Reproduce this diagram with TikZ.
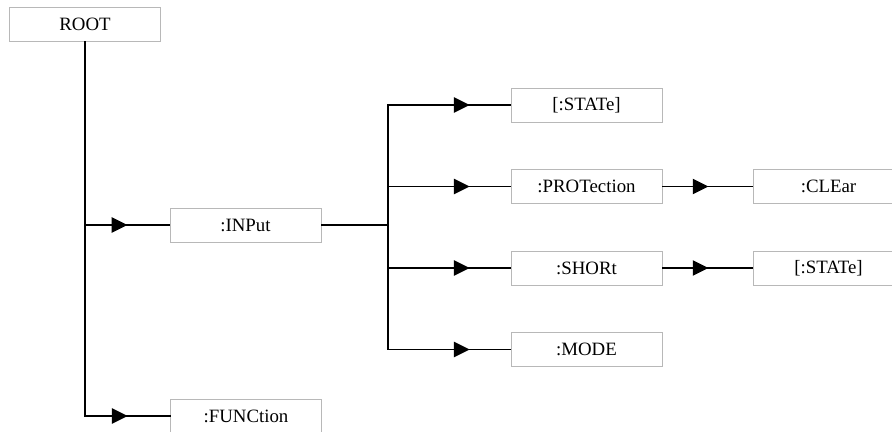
\documentclass[tikz,border=0pt]{standalone}
\usepackage{fontspec}
\setmainfont{Liberation Serif}
\usetikzlibrary{arrows.meta,decorations.markings}

\begin{document}
\begin{tikzpicture}[x=0.025cm, y=-0.025cm,
	cmd/.style={draw=black!28, line width=0.5pt, minimum width=3.775cm, minimum height=0.85cm, inner sep=0pt, font=\fontsize{13.4}{15}\selectfont},
	wire/.style={line width=1pt, line cap=rect},
	arrowat/.style={wire, postaction={decorate}, decoration={markings, mark=at position #1 with {\arrow{Triangle[length=0.39cm, width=0.38cm]}}}}]
	\clip (0,0) rectangle (892,432);
	\node[cmd] (root) at (85,24) {ROOT};
	\node[cmd] (input) at (245.5,225) {:INPut};
	\node[cmd] (function) at (246,416) {:FUNCtion};
	\node[cmd] (state) at (586.5,105) {[:STATe]};
	\node[cmd] (protection) at (586.5,186.5) {:PROTection};
	\node[cmd] (short) at (586.5,268) {:SHORt};
	\node[cmd] (mode) at (586.5,349.5) {:MODE};
	\node[cmd] (clear) at (828.5,186.5) {:CLEar};
	\node[cmd] (shortstate) at (828.5,268) {[:STATe]};
	% trunk below ROOT
	\draw[wire] (root.south) -- (root.south |- function.west);
	\draw[arrowat=0.5] (root.south |- function.west) -- (function.west);
	\draw[arrowat=0.5] (root.south |- input.west) -- (input.west);
	% bus right of :INPut
	\coordinate (bus) at (388,225);
	\draw[wire] (input.east) -- (bus);
	\draw[wire] (bus |- state.west) -- (bus |- mode.west);
	\foreach \n in {state,protection,short,mode}
		\draw[arrowat=0.665] (bus |- \n.west) -- (\n.west);
	\draw[arrowat=0.51] (protection) -- (clear);
	\draw[arrowat=0.51] (short) -- (shortstate);
\end{tikzpicture}
\end{document}
